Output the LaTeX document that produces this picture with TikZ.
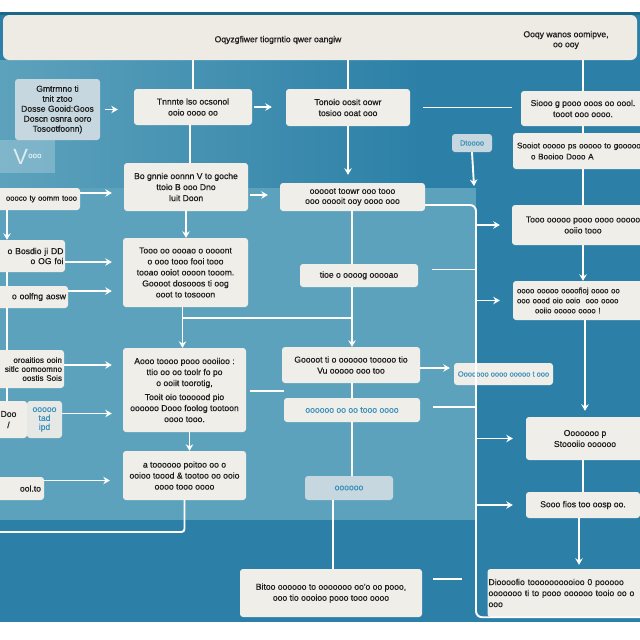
\documentclass[tikz,border=0pt]{standalone}
\usepackage{fontspec}
\setmainfont{Liberation Sans}
\newfontfamily\boxfont[FakeBold=0.7]{Liberation Sans}
\usetikzlibrary{arrows.meta}
\definecolor{panel}{HTML}{2C80A7}
\definecolor{panellight}{HTML}{5DA2BC}
\definecolor{boxfill}{HTML}{F0EEE9}
\definecolor{hdrfill}{HTML}{EEEAE4}
\definecolor{txt}{HTML}{1E1E1E}
\definecolor{bluetxt}{HTML}{3A90BA}
\definecolor{edge}{HTML}{1D6787}
\definecolor{greybox}{HTML}{C6D7DF}
\begin{document}
\begin{tikzpicture}[x=1pt,y=-1pt,
  box/.style={fill=boxfill, rounded corners=3pt, align=center, text=txt,
    font=\boxfont\fontsize{8.6}{11}\selectfont, inner sep=1pt},
  bluebox/.style={box, text=bluetxt},
  edgebox/.style={box, align=right, text width=#1},
  wire/.style={draw=white, line width=1.9pt},
  arr/.style={wire, -{Stealth[length=6.5pt,width=7.5pt]}},
]
\useasboundingbox (0,0) rectangle (640,640);
\clip (0,0) rectangle (640,640);

% backdrop
\fill[white] (0,0) rectangle (640,640);
\fill[panel] (0,12) rectangle (640,622);
\fill[edge] (0,12) rectangle (640,15);
\shade[left color=panellight, right color=panel] (0,60) rectangle (420,188);
\fill[panellight] (0,188) rectangle (476,520);

% header band
\node[fill=hdrfill, rounded corners=6pt, minimum width=634, minimum height=45, inner sep=0] (hdr) at (320,37.5) {};
\node[text=txt, font=\boxfont\fontsize{8.6}{10}\selectfont] (htl) at (278,40) {Oqyzgfiwer tiogrntio qwer oangiw};
\node[text=txt, font=\boxfont\fontsize{8.6}{10}\selectfont, align=center] (htr) at (566,40) {Ooqy wanos oomipve,\\ oo ooy};

% left column (boxes run off the left edge, text kept inside)
\node[box, fill=greybox, minimum width=85, minimum height=61] (l1) at (57.5,109.5)
  {Gmtrmno ti\\[-1pt] tnit ztoo\\[-1pt] Dosse Gooid:Goos\\[-1pt] Doscn osnra ooro\\[-1pt] Tosootfoonn)};
\node[fill=white, fill opacity=0.22, text opacity=1, minimum width=55, minimum height=33, inner sep=0, text=white!85!panel] (lv) at (27.5,156.5)
  {{\fontsize{22}{22}\selectfont V}\raisebox{6pt}{\boxfont\fontsize{8}{8}\selectfont ooo}};
\node[edgebox=84, minimum width=90, minimum height=22, font=\boxfont\fontsize{7.7}{10}\selectfont] (l2) at (35,199) {oooco ty oomm tooo};
\node[edgebox=72, minimum width=75, minimum height=32] (l3) at (27.5,256) {o Bosdio ji DD\\[-1pt] o OG foi};
\node[edgebox=74, minimum width=78, minimum height=22] (l4) at (29,297) {o oolfng aosw};
\node[edgebox=70, minimum width=74, minimum height=38, font=\boxfont\fontsize{8.1}{10}\selectfont] (l5) at (27,369)
  {oroaitios ooin\\[-1pt] sitlc oomoomno\\[-1pt] oostis Sois};
\node[box, minimum width=37, minimum height=37] (l6a) at (8.5,419.5) {Doo\\ /};
\node[bluebox, fill=boxfill!75!greybox, minimum width=35, minimum height=37] (l6b) at (44.5,419.5) {ooooo\\[-2pt] tad\\[-2pt] ipd};
\node[edgebox=48, minimum width=54, minimum height=23] (l7) at (17,488.5) {ool.to};

% second column
\node[box, minimum width=118, minimum height=36] (c1) at (193,107) {Tnnnte lso ocsonol\\ ooio oooo oo};
\node[box, minimum width=124, minimum height=48] (c2) at (186,187) {Bo gnnie oonnn V to goche\\ ttoio B ooo Dno\\ Iuit Doon};
\node[box, minimum width=125, minimum height=69] (c3) at (185.5,272.5)
  {Tooo oo oooao o oooont\\ o ooo tooo fooi tooo\\ tooao ooiot oooon tooom.\\ Goooot dosooos ti oog\\ ooot to tosooon};
\node[box, minimum width=123, minimum height=84] (c4) at (184.5,390)
  {Aooo toooo pooo oooiioo :\\ ttio oo oo toolr fo po\\ o ooiit toorotig,\\[3pt] Tooit oio toooood pio\\ oooooo Dooo foolog tootoon\\ oooo tooo.};
\node[box, minimum width=123, minimum height=49] (c5) at (184.5,475.5)
  {a toooooo poitoo oo o\\ ooioo toood \& tootoo oo ooio\\ oooo tooo oooo};

% middle column
\node[box, minimum width=124, minimum height=37] (d1) at (348,107.5) {Tonoio oosit oowr\\ tosioo ooat ooo};
\node[box, minimum width=145, minimum height=28] (d2) at (352.5,197) {ooooot toowr ooo tooo\\[-1pt] ooo ooooit ooy oooo ooo};
\node[box, minimum width=118, minimum height=23] (d3) at (359,275.5) {tioe o oooog ooooao};
\node[box, minimum width=138, minimum height=36] (d4) at (351,365) {Goooot ti o oooooo tooooo tio\\ Vu ooooo ooo too};
\node[bluebox, minimum width=136, minimum height=24] (d5) at (352,410) {oooooo oo oo tooo oooo};
\node[bluebox, fill=greybox, minimum width=88, minimum height=24] (d6) at (349,488) {oooooo};
\node[box, minimum width=182, minimum height=48] (d7) at (331,593)
  {Bitoo oooooo to ooooooo oo'o oo pooo,\\ ooo tio oooioo pooo tooo oooo};

% small tags
\node[bluebox, fill=greybox, minimum width=40, minimum height=18] (s1) at (472,143) {\fontsize{7.5}{9}\selectfont Dtoooo};
\node[bluebox, minimum width=99, minimum height=22] (s2) at (503.5,374) {\fontsize{7.5}{9}\selectfont Ooooooo oooo ooooo t ooo};

% right column (boxes run off the right edge)
\node[box, minimum width=124, minimum height=35] (r1) at (583,108.5) {Siooo g pooo ooos oo oool.\\ tooot ooo oooo.};
\node[box, align=left, text width=132, minimum width=140, minimum height=36, font=\boxfont\fontsize{8.1}{11}\selectfont] (r2) at (583,151)
  {Sooiot ooooo ps ooooo to gooooo\\ \hspace*{14pt}o Booioo Dooo A};
\node[box, minimum width=142, minimum height=40] (r3) at (583,225) {Tooo ooooo pooo oooo ooooo\\ ooiio tooo};
\node[box, align=left, text width=136, minimum width=144, minimum height=39, font=\boxfont\fontsize{7.8}{10}\selectfont] (r4) at (585,300.5)
  {oooo ooooo oooofioj oooo oo\\ ooo oood oio ooio~ ooo oooo\\ \hspace*{18pt}ooiio ooooo oooo !};
\node[box, minimum width=118, minimum height=43] (r5) at (585,438.5) {Ooooooo p\\ Stoooiio oooooo};
\node[box, minimum width=114, minimum height=26] (r6) at (583,505) {Sooo fios too oosp oo.};
\node[box, align=left, text width=165, minimum height=48] (r7) at (571,593)
  {Dioooofio toooooooooioo 0 pooooo\\ ooooooo ti to pooo oooooo tooio oo o\\ ooo};

% guide columns
\coordinate (sp) at (7,0);
\coordinate (mx) at (352,0);
\coordinate (rx) at (476,0);

% header drops
\draw[wire] (hdr.south -| c1.north) -- (c1.north);
\draw[wire] (hdr.south -| d1.north) -- (d1.north);
\draw[wire] (hdr.south -| r1.north) -- (r1.north);

% second column flow
\draw[wire] ([xshift=-3pt]c1.south) -- ([xshift=-3pt]c1.south |- c2.north);
\draw[arr] (c2.south) -- (c2.south |- c3.north);
\draw[arr] ([xshift=-3pt]c3.south) -- ([xshift=-3pt]c3.south |- c4.north);
\draw[arr] ([xshift=5pt]c4.south) -- ([xshift=5pt]c4.south |- c5.north);
\coordinate (lout) at (-5,532);
\draw[wire, rounded corners=3pt] (c5.south) |- (lout);

% left feeders
\draw[arr, shorten <=5pt, shorten >=16pt] (l1.east) -- (l1.east -| c1.west);
\draw[arr, shorten >=12pt] ([yshift=6pt]l2.east) -- ([yshift=6pt]l2.east -| c2.west);
\draw[arr, shorten >=11pt] ([yshift=-6pt]l3.east) -- ([yshift=-6pt]l3.east -| c3.west);
\draw[arr, shorten >=11pt] ([yshift=6pt]l4.east) -- ([yshift=6pt]l4.east -| c3.west);
\draw[arr, shorten >=11pt] ([yshift=4pt]l5.east) -- ([yshift=4pt]l5.east -| c4.west);
\draw[arr, shorten >=11pt] ([yshift=6pt]l6b.east) -- ([yshift=6pt]l6b.east -| c4.west);
\draw[arr, shorten >=13pt] ([yshift=8pt]l7.east) -- ([yshift=8pt]l7.east -| c5.west);

% left spine
\draw[arr] (l2.south -| sp) -- (l3.north -| sp);
\draw[wire] (l3.south -| sp) -- (l4.north -| sp);
\draw[wire] (l4.south -| sp) -- (l5.north -| sp);
\draw[wire] (l5.south -| sp) -- (l6a.north -| sp);

% across the top rows
\draw[arr, shorten <=2pt, shorten >=14pt] (c1.east) -- (c1.east -| d1.west);
\draw[wire, shorten <=13pt, shorten >=9pt] (d1.east) -- (d1.east -| r1.west);
\draw[arr, shorten <=2pt, shorten >=12pt] ([yshift=-8pt]c2.east) -- ([yshift=-8pt]c2.east -| d2.west);
\draw[arr, shorten >=8pt] (d1.south) -- (d1.south |- d2.north);
\coordinate (s1d) at (474,186);
\draw[arr] (s1.south) -- (s1d);

% middle column flow
\coordinate (j1) at (183,318);
\draw[wire] (j1) -- (j1 -| mx);
\draw[wire] (d2.south -| mx) -- (d3.north -| mx);
\draw[arr] (d3.south -| mx) -- (d4.north -| mx);
\draw[wire] (d4.south -| mx) -- (d5.north -| mx);
\draw[wire] (d5.south -| mx) -- (d6.north -| mx);
\draw[wire] ([xshift=-16pt]d6.south) -- ([xshift=-16pt]d6.south |- d7.north);
\draw[wire, shorten <=4pt] ([yshift=-1pt]c4.east) -- ([yshift=-1pt]c4.east -| d5.west);
\draw[arr, shorten >=4pt] ([yshift=-3pt]d4.east) -- ([yshift=-3pt]d4.east -| s2.west);

% right spine and its branches
\draw[wire, rounded corners=6pt] ([yshift=-8pt]d2.east) -| (rx |- d7.south) -- ++(200,0);
\coordinate (d3r) at ([xshift=14pt,yshift=6pt]d3.east);
\draw[wire] (d3r) -- (d3r -| rx);
\coordinate (d5r) at ([xshift=13pt,yshift=3pt]d5.east);
\draw[wire] (d5r) -- (d5r -| rx);
\coordinate (d7r) at (462,579);
\draw[wire, shorten <=11pt] (d7r -| d7.east) -- (d7r);
\draw[arr, shorten >=12pt] (rx |- r3.west) -- (r3.west);
\draw[arr, shorten >=13pt] (rx |- r4.west) -- (r4.west);
\draw[arr, shorten >=13pt] (rx |- r5.west) -- (r5.west);
\draw[arr, shorten >=13pt] (rx |- r6.west) -- (r6.west);

% right column flow
\draw[wire] (r1.south) -- (r2.north);
\draw[wire] (r2.south) -- (r3.north);
\draw[arr] (r3.south) -- (r3.south |- r4.north);
\draw[arr, shorten >=6pt] (r4.south) -- (r4.south |- r5.north);
\draw[wire] (r5.south -| r6.north) -- (r6.north);
\draw[arr, shorten >=4pt] ([xshift=-4pt]r6.south) -- ([xshift=-4pt]r6.south |- r7.north);
\end{tikzpicture}
\end{document}
